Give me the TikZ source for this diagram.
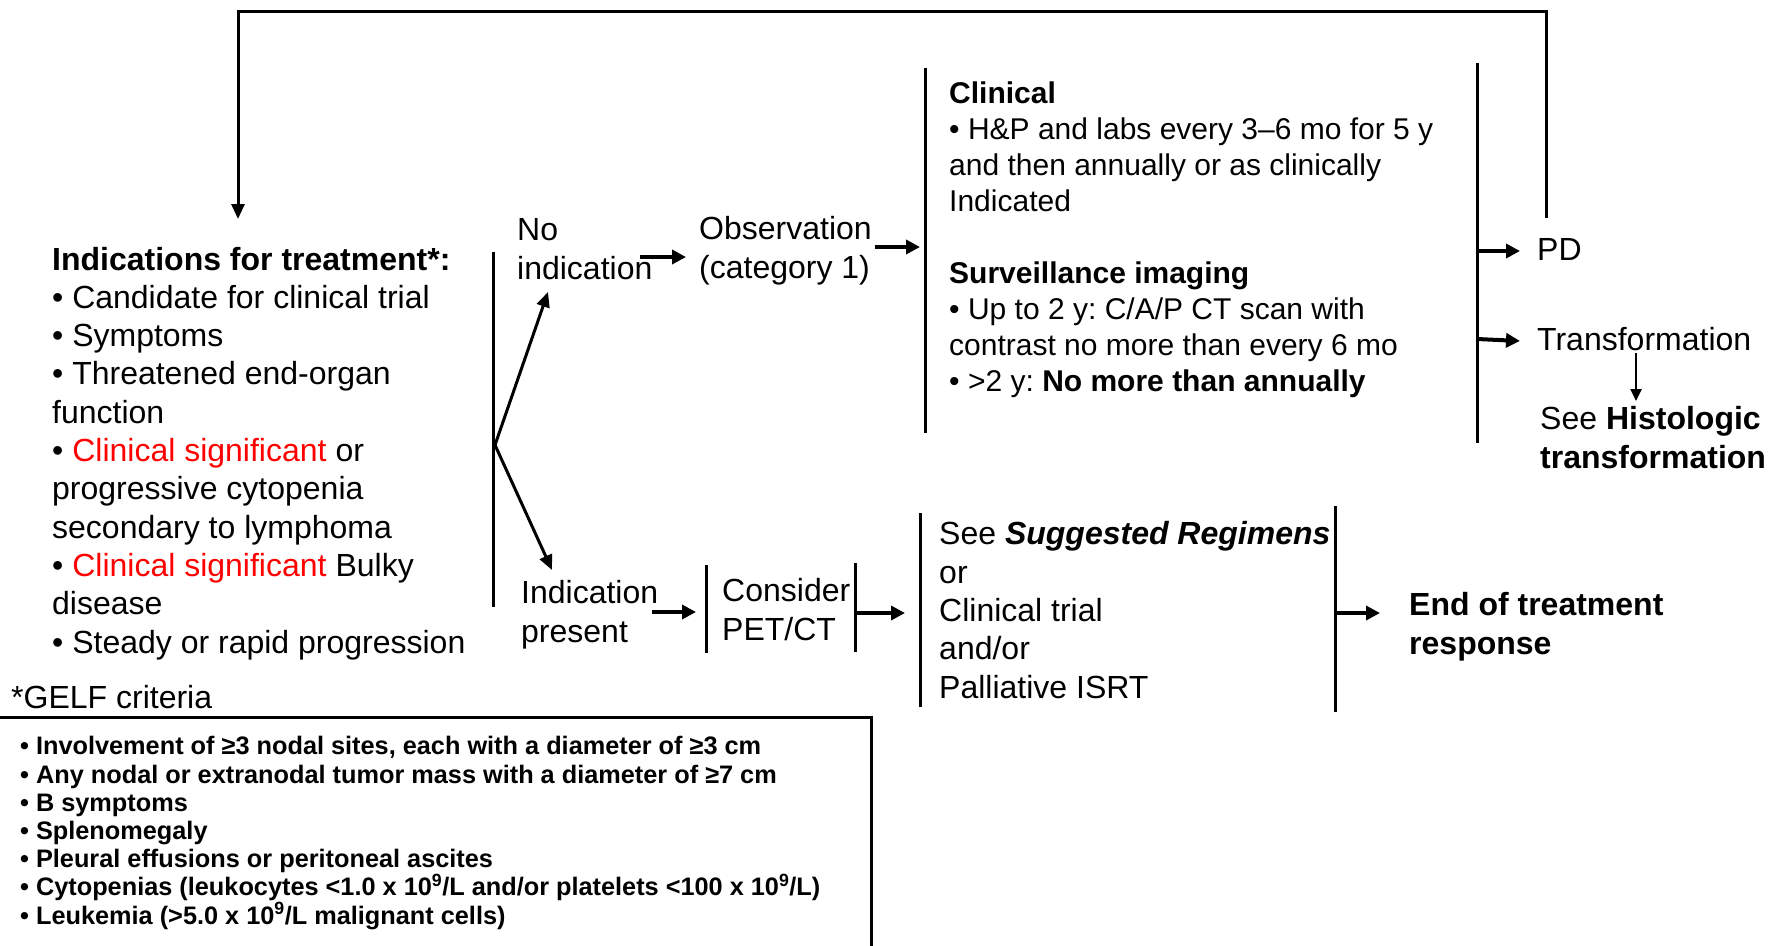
\documentclass[tikz,border=0pt]{standalone}
\usepackage{fontspec}
\setmainfont{Liberation Sans}
\usetikzlibrary{arrows.meta}
\frenchspacing
\definecolor{sigred}{RGB}{255,0,0}
\newcommand{\bigtxt}{\fontsize{32}{38.3}\selectfont}
\newcommand{\survtxt}{\fontsize{30}{36}\selectfont}
\newcommand{\gelftxt}{\fontsize{25.3}{28.2}\selectfont\bfseries}
\begin{document}
\begin{tikzpicture}[x=1pt,y=-1pt,
  lbl/.style={inner sep=0pt, anchor=base west, align=left, font=\bigtxt},
  bar/.style={line width=3pt},
  link/.style={line width=3pt, -{Triangle[length=15pt,width=13pt]}},
  shortarr/.style={line width=4pt, -{Triangle[length=14pt,width=14pt]}},
  thinarr/.style={line width=2.4pt, -{Triangle[length=12pt,width=11pt]}}]
\useasboundingbox (0,0) rectangle (1768,945);

% text blocks (each placed at the baseline of its last line)
\node[lbl] (ind) at (52,653) {\textbf{Indications for treatment*:}\\
• Candidate for clinical trial\\
• Symptoms\\
• Threatened end-organ\\
function\\
• \textcolor{sigred}{Clinical significant} or\\
progressive cytopenia\\
secondary to lymphoma\\
• \textcolor{sigred}{Clinical significant} Bulky\\
disease\\
• Steady or rapid progression};
\node[lbl] (noind) at (517,279) {No\\indication};
\node[lbl] (obs) at (699,278) {Observation\\(category 1)};
\node[lbl,font=\survtxt] (surv) at (949,391) {\textbf{Clinical}\\
• H\&P and labs every 3–6 mo for 5 y\\
and then annually or as clinically\\
Indicated\\[36pt]
\textbf{Surveillance imaging}\\
• Up to 2 y: C/A/P CT scan with\\
contrast no more than every 6 mo\\
• >2 y: \textbf{No more than annually}};
\node[lbl] (pd) at (1537,260) {PD};
\node[lbl] (trans) at (1537,350) {Transformation};
\node[lbl] (histo) at (1540,468) {See \textbf{Histologic}\\\textbf{transformation}};
\node[lbl] (indp) at (521,642) {Indication\\present};
\node[lbl] (pet) at (722,640) {Consider\\PET/CT};
\node[lbl] (regim) at (939,698) {See \textbf{\textit{Suggested Regimens}}\\or\\Clinical trial\\and/or\\Palliative ISRT};
\node[lbl] (eot) at (1409,654) {\textbf{End of treatment}\\\textbf{response}};
\node[lbl] (gelfhead) at (11,708) {*GELF criteria};
\node[lbl,font=\gelftxt] (gelf) at (20,924) {• Involvement of ≥3 nodal sites, each with a diameter of ≥3 cm\\
• Any nodal or extranodal tumor mass with a diameter of ≥7 cm\\
• B symptoms\\
• Splenomegaly\\
• Pleural effusions or peritoneal ascites\\
• Cytopenias (leukocytes <1.0 x 10\textsuperscript{9}/L and/or platelets <100 x 10\textsuperscript{9}/L)\\
• Leukemia (>5.0 x 10\textsuperscript{9}/L malignant cells)};

% frame of the criteria list
\draw[line width=3pt] (-5,717) rectangle (871,960);

% bracket bars
\draw[bar] (493,252) -- (493,607);
\draw[bar] (925,68) -- (925,433);
\draw[bar] (1477,63) -- (1477,443);
\draw[bar] (706,565) -- (706,653);
\draw[bar] (855,563) -- (855,652);
\draw[bar] (920,513) -- (920,707);
\draw[bar] (1335,506) -- (1335,712);

% connectors
\coordinate (fork) at (495,445);
\coordinate (noindtip) at (548,292);
\coordinate (indptip) at (552,570);
\draw[link] (fork) -- (noindtip);
\draw[link] (fork) -- (indptip);
\coordinate (pdtop) at (1546,218);
\coordinate (indtop) at (238,219);
\draw[link] (pdtop) -- (1546,11) -- (238,11) -- (indtop);

\draw[shortarr] (640,257) -- (686,257);
\draw[shortarr] (875,247) -- (920,247);
\draw[shortarr] (1477,251) -- (1520,251);
\draw[shortarr] (1477,339) -- (1520,341);
\draw[thinarr] (1636,353) -- (1636,401);
\draw[shortarr] (652,612) -- (696,612);
\draw[shortarr] (857,613) -- (905,613);
\draw[shortarr] (1335,613) -- (1380,613);
\end{tikzpicture}
\end{document}
